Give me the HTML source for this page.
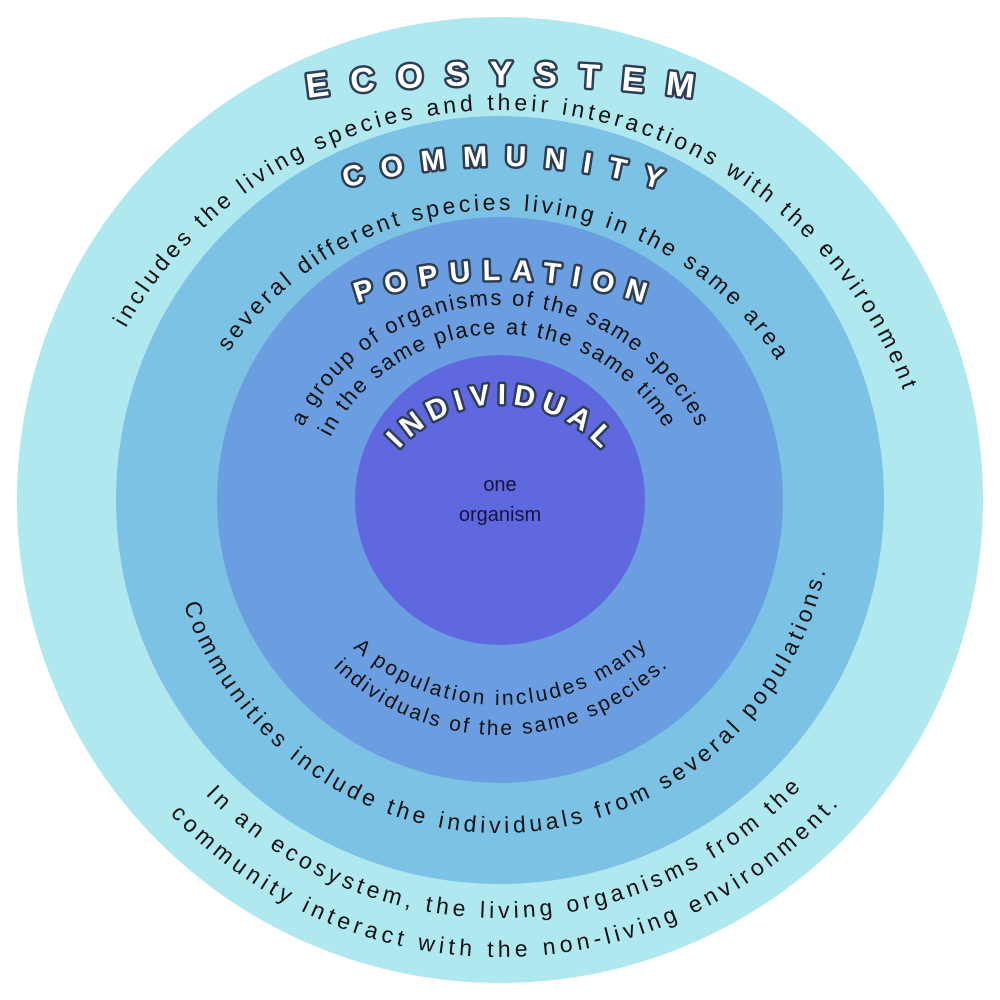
<!DOCTYPE html>
<html><head><meta charset="utf-8"><style>
html,body{margin:0;padding:0;background:#fff;}
svg{display:block}
.t{font-family:"Liberation Sans","DejaVu Sans",sans-serif;font-weight:bold;fill:#fff;stroke:#2e3e52;stroke-width:5px;paint-order:stroke;stroke-linejoin:round}
.s{font-family:"Liberation Sans","DejaVu Sans",sans-serif;fill:#111;}
</style></head><body>
<svg width="1000" height="1000" viewBox="0 0 1000 1000" xmlns="http://www.w3.org/2000/svg">
<defs>
<path id="eT" d="M500,2963 A1439,1439 0 1 1 500,85 A1439,1439 0 1 1 500,2963"/>
<path id="eS" d="M500,970 A430,430 0 1 1 500,110 A430,430 0 1 1 500,970"/>
<path id="cT" d="M500,1280 A557,557 0 1 1 500,166 A557,557 0 1 1 500,1280"/>
<path id="cS" d="M500,870 A330,330 0 1 1 500,210 A330,330 0 1 1 500,870"/>
<path id="pT" d="M500,1192 A456,456 0 1 1 500,280 A456,456 0 1 1 500,1192"/>
<path id="pS1" d="M500,745 A220,220 0 1 1 500,305 A220,220 0 1 1 500,745"/>
<path id="pS2" d="M500,716 A191,191 0 1 1 500,334 A191,191 0 1 1 500,716"/>
<path id="iT" d="M500,676 A136,136 0 1 1 500,404 A136,136 0 1 1 500,676"/>
<path id="pB1" d="M500,269 A218,218 0 1 0 500,705 A218,218 0 1 0 500,269"/>
<path id="pB2" d="M500,257 A239,239 0 1 0 500,735 A239,239 0 1 0 500,257"/>
<path id="cB" d="M500,167 A333,333 0 1 0 500,833 A333,333 0 1 0 500,167"/>
<path id="eB1" d="M500,92 A413,413 0 1 0 500,918 A413,413 0 1 0 500,92"/>
<path id="eB2" d="M500,53 A452,452 0 1 0 500,957 A452,452 0 1 0 500,53"/>
</defs>
<circle cx="500" cy="500" r="483" fill="#b0e8f0"/>
<circle cx="500" cy="500" r="384" fill="#7cc2e4"/>
<circle cx="500" cy="500" r="283" fill="#6a9ee0"/>
<circle cx="500" cy="500" r="145" fill="#6068e0"/>

<text class="t" font-size="34"><textPath href="#eT" startOffset="4327" textLength="387" lengthAdjust="spacing">ECOSYSTEM</textPath></text>
<text class="s" font-size="23"><textPath href="#eS" startOffset="897" textLength="976" lengthAdjust="spacing">includes the living species and their interactions with the environment</textPath></text>

<text class="t" font-size="29"><textPath href="#cT" startOffset="1593" textLength="319" lengthAdjust="spacing">COMMUNITY</textPath></text>
<text class="s" font-size="23"><textPath href="#cS" startOffset="718" textLength="647" lengthAdjust="spacing">several different species living in the same area</textPath></text>

<text class="t" font-size="29"><textPath href="#pT" startOffset="1287" textLength="291" lengthAdjust="spacing">POPULATION</textPath></text>
<text class="s" font-size="22"><textPath href="#pS1" startOffset="447" textLength="488" lengthAdjust="spacing">a group of organisms of the same species</textPath></text>
<text class="s" font-size="22"><textPath href="#pS2" startOffset="391" textLength="407" lengthAdjust="spacing">in the same place at the same time</textPath></text>

<text class="t" font-size="29"><textPath href="#iT" startOffset="313" textLength="228" lengthAdjust="spacing">INDIVIDUAL</textPath></text>
<text class="s" x="500" y="491" font-size="20" text-anchor="middle" style="fill:#14143c">one</text>
<text class="s" x="500" y="521" font-size="20" text-anchor="middle" style="fill:#14143c">organism</text>

<text class="s" font-size="21"><textPath href="#pB1" startOffset="523" textLength="323" lengthAdjust="spacing">A population includes many</textPath></text>
<text class="s" font-size="21"><textPath href="#pB2" startOffset="566" textLength="370" lengthAdjust="spacing">individuals of the same species.</textPath></text>

<text class="s" font-size="23"><textPath href="#cB" startOffset="629" textLength="868" lengthAdjust="spacing">Communities include the individuals from several populations.</textPath></text>

<text class="s" font-size="23"><textPath href="#eB1" startOffset="969" textLength="665" lengthAdjust="spacing">In an ecosystem, the living organisms from the</textPath></text>
<text class="s" font-size="23"><textPath href="#eB2" startOffset="1050" textLength="752" lengthAdjust="spacing">community interact with the non-living environment.</textPath></text>
</svg>
</body></html>
